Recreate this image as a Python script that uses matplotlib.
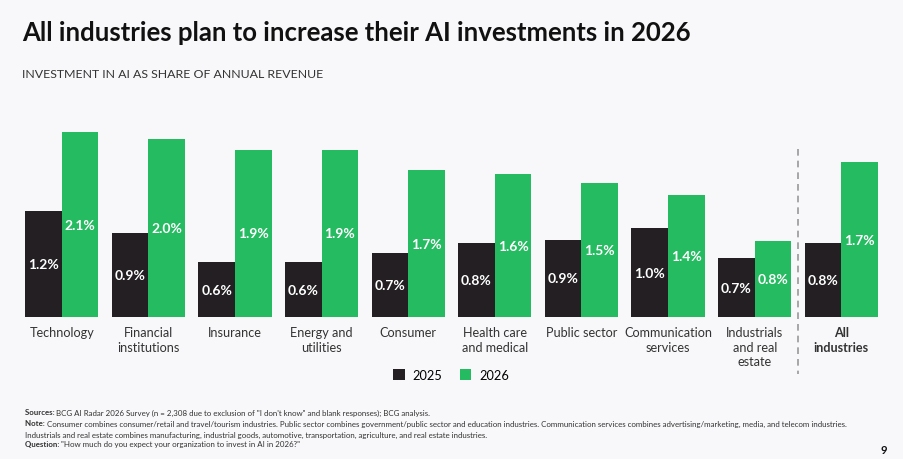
import matplotlib.pyplot as plt
import numpy as np

plt.rcParams['font.family'] = ['Lato', 'DejaVu Sans']

# data (bar heights estimated, labels as printed)
categories = ["Technology", "Financial\ninstitutions", "Insurance", "Energy and\nutilities",
              "Consumer", "Health care\nand medical", "Public sector", "Communication\nservices",
              "Industrials\nand real\nestate", "All\nindustries"]
values_2025 = [1.20, 0.95, 0.62, 0.62, 0.73, 0.84, 0.88, 1.01, 0.67, 0.84]
values_2026 = [2.10, 2.02, 1.90, 1.90, 1.67, 1.62, 1.52, 1.39, 0.86, 1.76]
labels_2025 = ["1.2%", "0.9%", "0.6%", "0.6%", "0.7%", "0.8%", "0.9%", "1.0%", "0.7%", "0.8%"]
labels_2026 = ["2.1%", "2.0%", "1.9%", "1.9%", "1.7%", "1.6%", "1.5%", "1.4%", "0.8%", "1.7%"]

BG = "#f8f7f9"
DARK = "#231f22"
GREEN = "#25bb60"

W, H = 904, 460
fig = plt.figure(figsize=(W / 100, H / 100), dpi=100, facecolor=BG)

w = 0.423
n = len(categories)
x = np.arange(n)
left, right = 25 / W, 878 / W
bottom, top = 1 - 318 / H, 1 - 110 / H
ax = fig.add_axes([left, bottom, right - left, top - bottom])
ax.set_facecolor(BG)
ax.set_xlim(-w, n - 1 + w)
ax.set_ylim(0, 208 / 88)

ax.bar(x - w / 2, values_2025, w, color=DARK, label="2025")
ax.bar(x + w / 2, values_2026, w, color=GREEN, label="2026")

for i in x:
    ax.text(i - w / 2, values_2025[i] / 2, labels_2025[i], ha="center", va="center",
            color="white", fontsize=10, fontweight="bold")
    ax.text(i + w / 2, values_2026[i] / 2, labels_2026[i], ha="center", va="center",
            color="white", fontsize=10, fontweight="bold")

for s in ax.spines.values():
    s.set_visible(False)
ax.set_xticks([])
ax.set_yticks([])

# category labels under each group
for i, c in enumerate(categories):
    xf = left + (i + w) / (n - 1 + 2 * w) * (right - left)
    fig.text(xf, 1 - 327 / H, c, ha="center", va="top", fontsize=9.1, color="#333333",
             linespacing=1.25, fontweight="bold" if i == n - 1 else "normal")

# dashed separator before "All industries"
sep_x = left + (n - 1.5 + w) / (n - 1 + 2 * w) * (right - left)
fig.add_artist(plt.Line2D([sep_x, sep_x], [1 - 150 / H, 1 - 375 / H], color="#999999",
                          lw=1.2, ls=(0, (4, 3)), transform=fig.transFigure))

# legend
fig.legend(loc="center", bbox_to_anchor=(451 / W, 1 - 376 / H), ncol=2, frameon=False,
           fontsize=9.2, handlelength=0.9, handleheight=0.9, columnspacing=1.4, handletextpad=0.6)

fig.text(22 / W, 1 - 33 / H, "All industries plan to increase their AI investments in 2026",
         fontsize=18.5, fontweight="bold", color="#111111", va="center")
fig.text(22 / W, 1 - 74 / H, "INVESTMENT IN AI AS SHARE OF ANNUAL REVENUE",
         fontsize=8.9, color="#333333", va="center")

foot = [
    ("Sources: ", "BCG AI Radar 2026 Survey (n = 2,308 due to exclusion of \"I don't know\" and blank responses); BCG analysis."),
    ("Note: ", "Consumer combines consumer/retail and travel/tourism industries. Public sector combines government/public sector and education industries. Communication services combines advertising/marketing, media, and telecom industries."),
    ("", "Industrials and real estate combines manufacturing, industrial goods, automotive, transportation, agriculture, and real estate industries."),
    ("Question: ", "\"How much do you expect your organization to invest in AI in 2026?\""),
]
ys = [413, 424, 435, 445]
fig.canvas.draw()
for (b, t), yy in zip(foot, ys):
    x0 = 25
    if b:
        tx = fig.text(25 / W, 1 - yy / H, b, fontsize=5.65, fontweight="bold", color="#333333", va="center")
        x0 = tx.get_window_extent(fig.canvas.get_renderer()).x1
    fig.text(x0 / W, 1 - yy / H, t, fontsize=5.65, color="#333333", va="center")

fig.text(881 / W, 1 - 451 / H, "9", fontsize=8, fontweight="bold", color="#111111", va="center")

fig.savefig("out.png", dpi=100, facecolor=BG)
